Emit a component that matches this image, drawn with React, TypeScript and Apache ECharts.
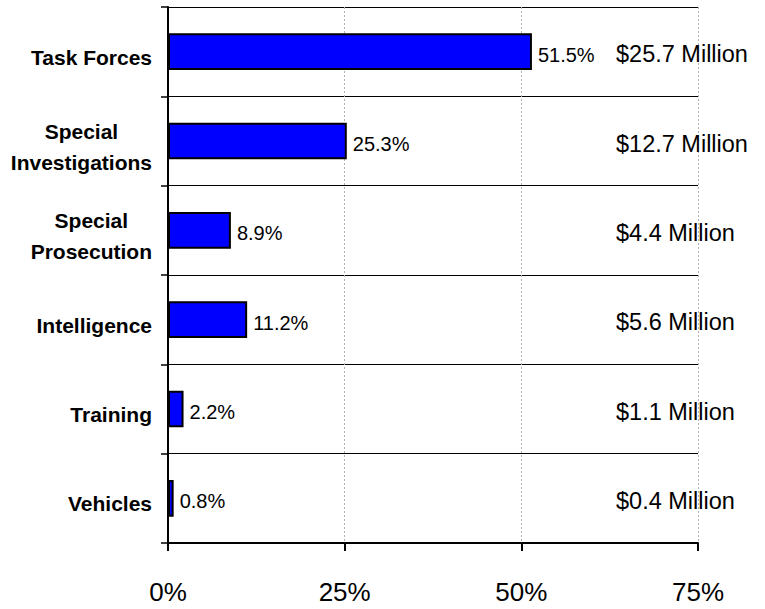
import React, { useEffect, useRef } from "react";
import * as echarts from "echarts";

const categories = [
  "Task Forces",
  "Special\nInvestigations",
  "Special\nProsecution",
  "Intelligence",
  "Training",
  "Vehicles",
];
const percents = [51.5, 25.3, 8.9, 11.2, 2.2, 0.8];
const amounts = [
  "$25.7 Million",
  "$12.7 Million",
  "$4.4 Million",
  "$5.6 Million",
  "$1.1 Million",
  "$0.4 Million",
];
const xMin = 0;
const xMax = 75;
const xInterval = 25;

const FONT = '"Liberation Sans", Arial, sans-serif';

export default function App() {
  const ref = useRef<HTMLDivElement>(null);
  useEffect(() => {
    if (!ref.current) return;
    const chart = echarts.init(ref.current, undefined, { renderer: "svg" });
    chart.setOption({
      animation: false,
      backgroundColor: "#ffffff",
      textStyle: { fontFamily: FONT },
      grid: { left: 168, right: 67, top: 7, bottom: 66, containLabel: false },
      xAxis: {
        type: "value",
        min: xMin,
        max: xMax,
        interval: xInterval,
        axisLine: { show: true, lineStyle: { color: "#000", width: 2 } },
        axisTick: { show: true, length: 8, lineStyle: { color: "#000", width: 2 } },
        axisLabel: {
          formatter: (v: number) => `${v}%`,
          fontSize: 26,
          color: "#000",
          fontFamily: FONT,
          margin: 36,
        },
        splitLine: {
          show: true,
          lineStyle: { color: "#b0b0b0", width: 1, type: [2, 2] },
        },
      },
      yAxis: [
        {
          type: "category",
          data: categories,
          inverse: true,
          axisLine: { show: true, lineStyle: { color: "#000", width: 2 } },
          axisTick: { show: true, length: 7, lineStyle: { color: "#000", width: 1.5 } },
          axisLabel: {
            formatter: (v: string) =>
              v
                .split("\n")
                .map((s) => `{c|${s}}`)
                .join("\n"),
            align: "right",
            margin: 16,
            padding: [11, 0, 0, 0],
            rich: {
              c: {
                align: "center",
                fontSize: 21,
                fontWeight: "bold",
                color: "#000",
                fontFamily: FONT,
                lineHeight: 31,
              },
            },
          },
          splitLine: { show: true, lineStyle: { color: "#000", width: 1 } },
        },
        {
          type: "category",
          data: amounts,
          inverse: true,
          position: "right",
          axisLine: { show: false },
          axisTick: { show: false },
          splitLine: { show: false },
          axisLabel: {
            inside: true,
            align: "left",
            margin: 82,
            formatter: (v: string) => `{m|${v}}`,
            padding: [5, 0, 0, 0],
            rich: {
              m: {
                fontSize: 23.5,
                color: "#000",
                fontFamily: FONT,
              },
            },
          },
        },
      ],
      series: [
        {
          type: "bar",
          data: percents,
          yAxisIndex: 0,
          barWidth: "41%",
          itemStyle: { color: "#0000ff", borderColor: "#000", borderWidth: 2 },
          label: {
            show: true,
            position: "right",
            distance: 6,
            offset: [0, 3],
            formatter: (p: any) => `${p.value}%`,
            fontSize: 20,
            color: "#000",
            fontFamily: FONT,
          },
        },
      ],
    });
    return () => chart.dispose();
  }, []);
  return (
    <div
      ref={ref}
      style={{ position: "absolute", left: 0, top: 0, width: 765, height: 609 }}
    />
  );
}
